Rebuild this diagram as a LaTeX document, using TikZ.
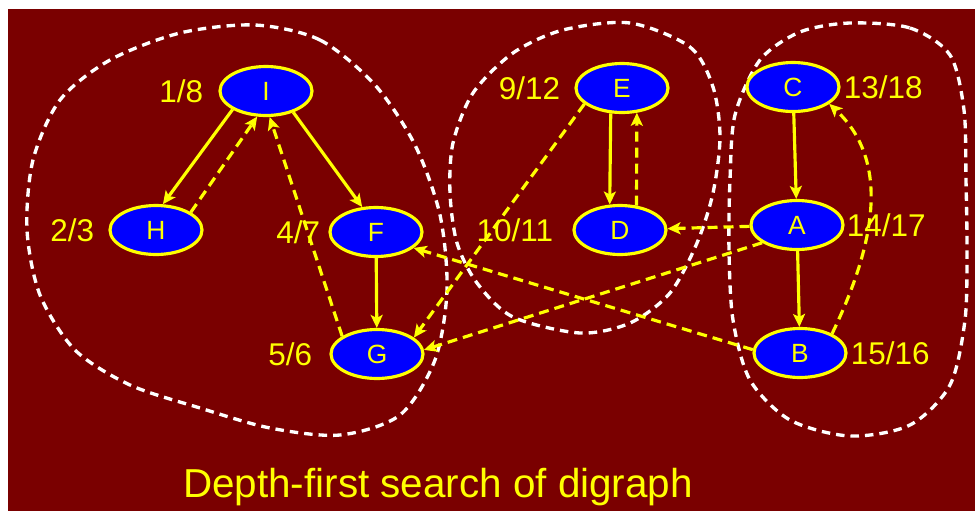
\documentclass[tikz,border=0pt]{standalone}
\usepackage{fontspec}
\setmainfont{Liberation Sans}
\usetikzlibrary{arrows.meta,positioning,shapes.geometric}
\definecolor{slidebg}{RGB}{122,0,0}
\definecolor{vblue}{RGB}{0,0,255}
\definecolor{vyellow}{RGB}{255,255,0}

\begin{document}
\begin{tikzpicture}[x=0.02cm, y=-0.02cm,
    vertex/.style={draw=vyellow, fill=vblue, ellipse, line width=1.8pt, minimum width=1.84cm, minimum height=0.98cm, inner sep=0pt, text=vyellow, font=\fontsize{15}{17}\selectfont},
    stamp/.style={text=vyellow, inner sep=0pt, font=\fontsize{17.9}{20}\selectfont},
    tree/.style={-{Stealth[length=0.26cm, width=0.24cm, inset=0.06cm]}, draw=vyellow, line width=1.8pt},
    back/.style={tree, dash pattern=on 0.2cm off 0.12cm},
    comp/.style={draw=white, line width=1.9pt, dash pattern=on 0.17cm off 0.12cm}]
    \useasboundingbox (0,0) rectangle (975,511);
    \fill[slidebg] (8,9) rectangle (975,511);

    % Components
    \draw[comp] plot[smooth cycle] coordinates {(255,25) (320,40) (375,85) (415,145) (440,215) (447,290) (435,360) (400,415) (340,435) (270,428) (200,408) (130,385) (75,350) (40,295) (27,230) (33,160) (60,100) (110,60) (180,33)};
    \draw[comp] plot[smooth cycle] coordinates {(630,23) (690,47) (713,87) (720,137) (713,193) (697,243) (670,293) (630,323) (580,333) (513,317) (477,283) (457,243) (450,193) (453,143) (473,93) (513,53) (563,30)};
    \draw[comp] plot[smooth cycle] coordinates {(850,23) (910,28) (950,55) (964,110) (966,180) (967,250) (965,320) (950,385) (910,425) (850,436) (790,420) (750,380) (733,320) (729,250) (730,180) (735,115) (760,60) (800,32)};

    % Nodes
    \node[vertex] (I) at (266,91) {I};
    \node[vertex] (H) at (156,230) {H};
    \node[vertex] (F) at (376,232) {F};
    \node[vertex] (G) at (377,354) {G};
    \node[vertex] (E) at (622,88) {E};
    \node[vertex] (D) at (620,230) {D};
    \node[vertex] (C) at (793,87) {C};
    \node[vertex] (A) at (797,225) {A};
    \node[vertex] (B) at (800,353) {B};

    % Times
    \node[stamp, left=0.3cm of I] (tI) {1/8};
    \node[stamp, left=0.28cm of H] (tH) {2/3};
    \node[stamp, left=0.16cm of F] (tF) {4/7};
    \node[stamp, left=0.34cm of G] (tG) {5/6};
    \node[stamp, left=0.28cm of E] (tE) {9/12};
    \node[stamp, left=0.38cm of D] (tD) {10/11};
    \node[stamp, right=0.06cm of C] (tC) {13/18};
    \node[stamp, right=0.04cm of A] (tA) {14/17};
    \node[stamp, right=0.06cm of B] (tB) {15/16};

    % Tree edges
    \draw[tree] (I.209) -- (H.75);
    \draw[tree] (I.322) -- (F.119);
    \draw[tree] (F) -- (G);
    \draw[tree] (E.246) -- (D.112);
    \draw[tree] (C) -- (A);
    \draw[tree] (A) -- (B);

    % Other edges
    \draw[back] (H.27) -- (I.251);
    \draw[back] (G.153) -- (I.278);
    \draw[back] (D.56) -- (E.301);
    \draw[back] (E.203) -- (G.24);
    \draw[back] (A) -- (D);
    \draw[back] (A.207) -- (G.5);
    \draw[back] (B.176) -- (F.337);
    \draw[back] (B.31) .. controls (870,255) and (895,165) .. (C.335);

    % Caption
    \node[stamp, font=\fontsize{23}{27}\selectfont, anchor=base] (title) at (438,497) {Depth-first search of digraph};
\end{tikzpicture}
\end{document}
